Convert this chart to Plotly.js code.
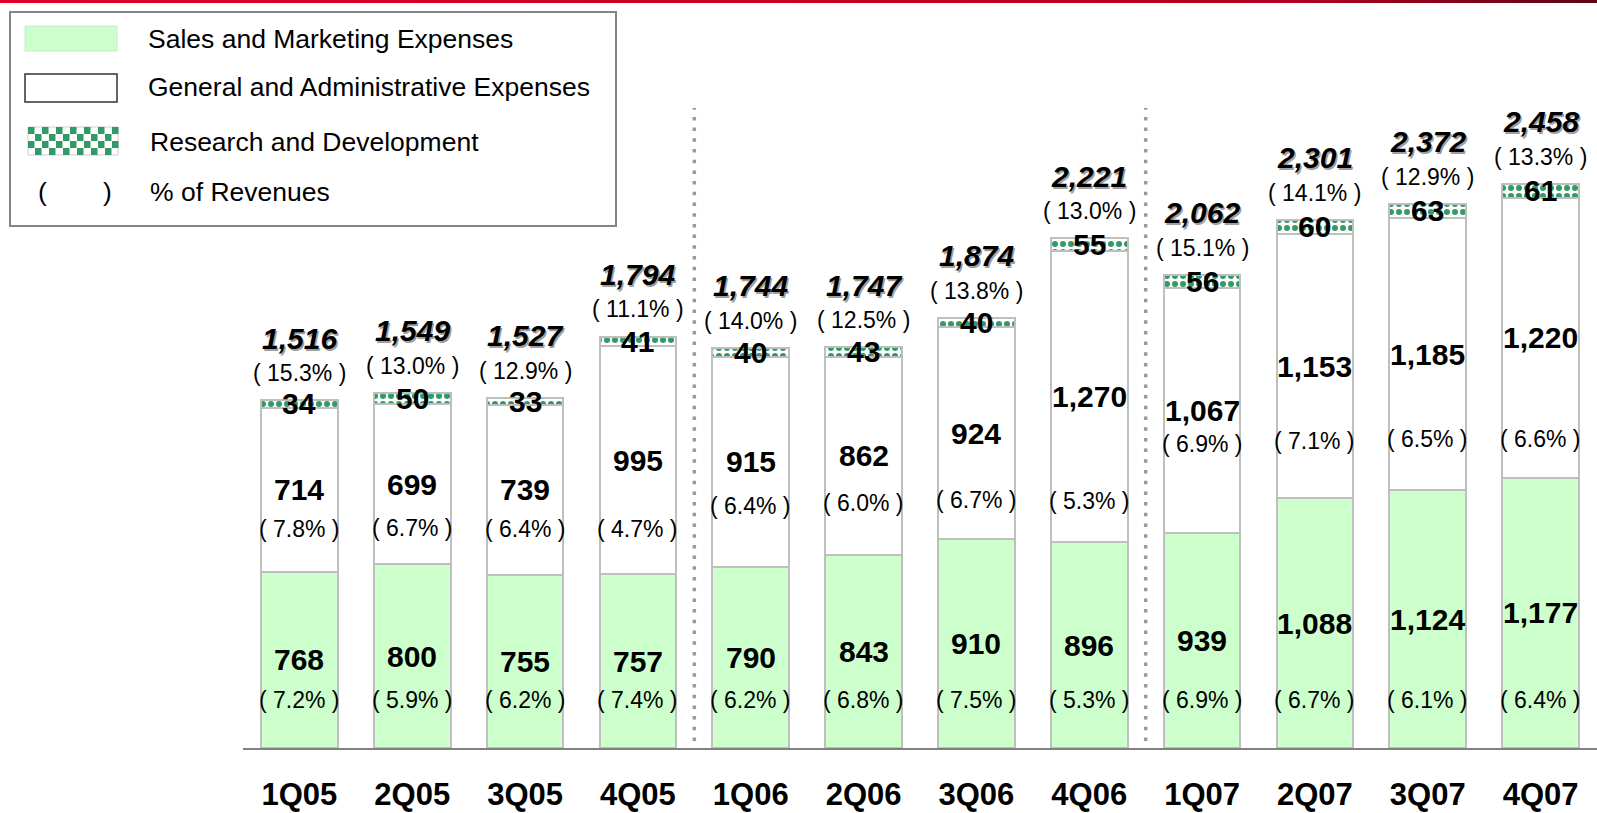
<!DOCTYPE html>
<html>
<head>
<meta charset="utf-8">
<script src="https://cdn.plot.ly/plotly-3.0.1.min.js"></script>
<style>
  html, body { margin: 0; padding: 0; background: #fff; }
  #wrap { position: relative; width: 1597px; height: 813px; overflow: hidden; }
  #chart { position: absolute; left: 0; top: 0; width: 1597px; height: 813px; }
  #topbar { position: absolute; left: 0; top: 0; width: 1597px; height: 3px; z-index: 10;
    background: linear-gradient(to right, #E2002B 0%, #C8001F 50%, #B3001E 81%, #5B0617 100%); }
</style>
</head>
<body>
<div id="wrap"><div id="chart"></div><div id="topbar"></div></div>
<script>
// ---- data ----
const quarters   = ['1Q05','2Q05','3Q05','4Q05','1Q06','2Q06','3Q06','4Q06','1Q07','2Q07','3Q07','4Q07'];
const salesMkt   = [768, 800, 755, 757, 790, 843, 910, 896, 939, 1088, 1124, 1177];
const genAdmin   = [714, 699, 739, 995, 915, 862, 924, 1270, 1067, 1153, 1185, 1220];
const rnd        = [34, 50, 33, 41, 40, 43, 40, 55, 56, 60, 63, 61];
const totals     = [1516, 1549, 1527, 1794, 1744, 1747, 1874, 2221, 2062, 2301, 2372, 2458];
const salesPct   = [7.2, 5.9, 6.2, 7.4, 6.2, 6.8, 7.5, 5.3, 6.9, 6.7, 6.1, 6.4];
const adminPct   = [7.8, 6.7, 6.4, 4.7, 6.4, 6.0, 6.7, 5.3, 6.9, 7.1, 6.5, 6.6];
const totalPct   = [15.3, 13.0, 12.9, 11.1, 14.0, 12.5, 13.8, 13.0, 15.1, 14.1, 12.9, 13.3];
const legendNames = ['Sales and Marketing Expenses', 'General and Administrative Expenses', 'Research and Development', '% of Revenues'];

// ---- label placement (pixels) ----
const adminPctShift = [39, 44, 39, 69, 44, 47, 67, 104, 34, 75, 85, 101];

// ---- geometry helpers ----
const W = 1597, H = 813;
const PX = x => x / W;
const PY = y => 1 - y / H;
const FONT = 'Liberation Sans, Arial, sans-serif';
const GREEN = '#339966';
const EDGE = '#BFBFBF';

const fmt = v => v.toLocaleString('en-US');
const pct = v => '( ' + v.toFixed(1) + '% )';

const traces = [
  { type: 'bar', x: quarters, y: salesMkt, name: legendNames[0],
    marker: { color: '#CCFFCC', line: { color: EDGE, width: 2 } }, hoverinfo: 'skip' },
  { type: 'bar', x: quarters, y: genAdmin, name: legendNames[1],
    marker: { color: '#FFFFFF', line: { color: EDGE, width: 2 } }, hoverinfo: 'skip' },
  { type: 'bar', x: quarters, y: rnd, name: legendNames[2],
    marker: { color: GREEN, line: { color: EDGE, width: 2 },
      pattern: { shape: '.', fgcolor: GREEN, bgcolor: '#FFFFFF', size: 8, solidity: 0.45, fillmode: 'replace' } },
    hoverinfo: 'skip' }
];

const annotations = [];
const valFont = { family: FONT, size: 30, color: '#000', weight: 'bold' };
const pctFont = { family: FONT, size: 23, color: '#000' };

quarters.forEach((q, i) => {
  const smMid = salesMkt[i] / 2;
  const gaMid = salesMkt[i] + genAdmin[i] / 2;
  const rdMid = salesMkt[i] + genAdmin[i] + rnd[i] / 2;
  annotations.push({ x: q, y: smMid, text: fmt(salesMkt[i]), showarrow: false, font: valFont, yanchor: 'middle' });
  annotations.push({ x: q, y: 0, yshift: 48, text: pct(salesPct[i]), showarrow: false, font: pctFont, yanchor: 'middle' });
  annotations.push({ x: q, y: gaMid, text: fmt(genAdmin[i]), showarrow: false, font: valFont, yanchor: 'middle' });
  annotations.push({ x: q, y: gaMid, yshift: -adminPctShift[i], text: pct(adminPct[i]), showarrow: false, font: pctFont, yanchor: 'middle' });
  annotations.push({ x: q, y: rdMid, text: fmt(rnd[i]), showarrow: false, font: valFont, yanchor: 'middle' });
  annotations.push({ x: q, y: totals[i], yshift: 27, text: pct(totalPct[i]), showarrow: false, font: pctFont, yanchor: 'middle' });
  annotations.push({ x: q, y: totals[i], yshift: 62, text: '<i>' + fmt(totals[i]) + '</i>', showarrow: false,
    font: { family: FONT, size: 30, color: '#000', weight: 'bold', style: 'italic', shadow: '1.5px 1.5px 0.5px #a0a0a0' }, yanchor: 'middle' });
});

// legend texts
const legFont = { family: FONT, size: 26.5, color: '#000' };
const legRowsY = [39, 87, 142, 191.5];
legendNames.forEach((n, k) => {
  annotations.push({ xref: 'paper', yref: 'paper', x: PX(k < 2 ? 146 : 148), y: PY(legRowsY[k]), xanchor: 'left', yanchor: 'middle',
    text: n, showarrow: false, font: legFont });
});
annotations.push({ xref: 'paper', yref: 'paper', x: PX(42), y: PY(191.5), xanchor: 'center', yanchor: 'middle', text: '(', showarrow: false, font: legFont });
annotations.push({ xref: 'paper', yref: 'paper', x: PX(107), y: PY(191.5), xanchor: 'center', yanchor: 'middle', text: ')', showarrow: false, font: legFont });

const shapes = [
  // year separators
  { type: 'line', xref: 'x', yref: 'paper', x0: 3.5, x1: 3.5, y0: PY(741), y1: PY(108),
    line: { color: '#999999', width: 3.5, dash: '3.5px,7.2px' } },
  { type: 'line', xref: 'x', yref: 'paper', x0: 7.5, x1: 7.5, y0: PY(741), y1: PY(108),
    line: { color: '#999999', width: 3.5, dash: '3.5px,7.2px' } },
  // legend frame
  { type: 'rect', xref: 'paper', yref: 'paper', x0: PX(10), x1: PX(616), y0: PY(226), y1: PY(12),
    line: { color: '#858585', width: 2 }, fillcolor: 'rgba(0,0,0,0)' },
  // legend swatches
  { type: 'rect', xref: 'paper', yref: 'paper', x0: PX(25), x1: PX(117), y0: PY(51), y1: PY(26),
    line: { color: '#C4ECC4', width: 1 }, fillcolor: '#CCFFCC' },
  { type: 'rect', xref: 'paper', yref: 'paper', x0: PX(25), x1: PX(117), y0: PY(102), y1: PY(74),
    line: { color: '#333333', width: 1.5 }, fillcolor: '#FFFFFF' },
  { type: 'rect', xref: 'paper', yref: 'paper', x0: PX(28), x1: PX(118), y0: PY(155), y1: PY(127),
    line: { color: '#CCCCCC', width: 1 }, fillcolor: '#FFFFFF' }
];
// checkerboard for the R&D swatch
const sq = 7, cols = 13, rows = 4;
for (let r = 0; r < rows; r++) {
  for (let c = 0; c < cols; c++) {
    if ((r + c) % 2 === 0) {
      shapes.push({ type: 'rect', xref: 'paper', yref: 'paper',
        x0: PX(28 + c * sq), x1: PX(28 + (c + 1) * sq - 0.5), y0: PY(127 + (r + 1) * sq), y1: PY(127 + r * sq),
        line: { width: 0 }, fillcolor: GREEN });
    }
  }
}

const layout = {
  width: W, height: H,
  margin: { l: 0, r: 0, t: 0, b: 0, pad: 0 },
  paper_bgcolor: '#FFFFFF', plot_bgcolor: 'rgba(0,0,0,0)',
  barmode: 'stack', bargap: 0.32,
  showlegend: false,
  font: { family: FONT, color: '#000' },
  xaxis: {
    domain: [243 / W, 1], type: 'category', range: [-0.5, 11.5],
    showline: true, linecolor: '#808080', linewidth: 2,
    ticks: '', showgrid: false, zeroline: false,
    tickfont: { family: FONT, size: 31, color: '#000', weight: 'bold' },
    ticklabelstandoff: 18, fixedrange: true
  },
  yaxis: {
    domain: [65 / H, 1], range: [0, 748 / 0.2295],
    visible: false, showgrid: false, zeroline: false, fixedrange: true
  },
  annotations: annotations,
  shapes: shapes
};

Plotly.newPlot('chart', traces, layout, { staticPlot: true, displayModeBar: false });
</script>
</body>
</html>
